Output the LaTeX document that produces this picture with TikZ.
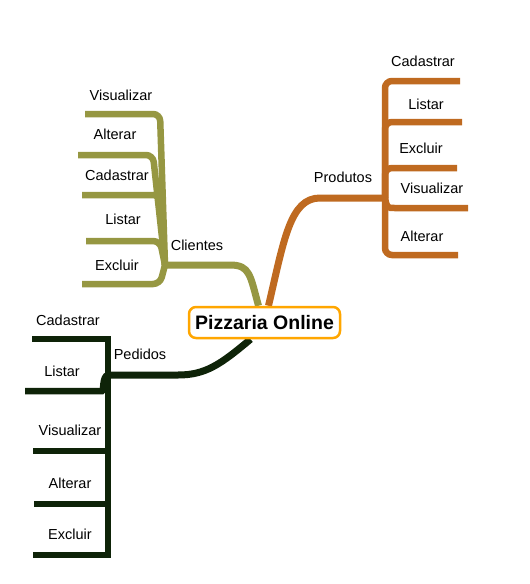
\documentclass[tikz,border=0pt]{standalone}
\usepackage{fontspec}
\setmainfont{Liberation Sans}
\usetikzlibrary{positioning, calc, backgrounds}
\definecolor{prodorange}{RGB}{191,106,32}
\definecolor{cliolive}{RGB}{150,151,66}
\definecolor{peddark}{RGB}{14,35,8}
\definecolor{rootorange}{RGB}{255,166,0}

\begin{document}
\begin{tikzpicture}[x=1pt, y=-1pt,
  every node/.style={font=\fontsize{14.5}{16}\selectfont, inner sep=1pt},
  branch/.style={line width=7pt},
  leaf/.style={line width=6.5pt, rounded corners=7pt}]
\useasboundingbox (0,0) rectangle (530,584);

\node[draw=rootorange, fill=white, line width=2.5pt, rounded corners=7pt, inner sep=0pt,
  minimum width=151pt, minimum height=31pt,
  font=\bfseries\fontsize{19.5}{22}\selectfont] (root) at (264.5,322.5) {Pizzaria Online};

\coordinate (prodJ) at (385,198);
\coordinate (cliJ) at (165,265);
\coordinate (pedJ) at (108,375);

\begin{scope}[on background layer]
% Produtos
\draw[branch, prodorange] ($(root.north)+(4,0)$) .. controls (284,240) and (290,198) .. (320,198) -- (prodJ);
\foreach \y/\xe in {81/460, 122/462, 168/457, 255/458}
  \draw[leaf, prodorange] (prodJ) -- (385,\y) -- (\xe,\y);
\draw[leaf, prodorange] (prodJ) .. controls (387,208) .. (402,208) -- (468,208);

% Clientes
\draw[branch, cliolive] ($(root.north)+(-6,0)$) .. controls (250,275) and (250,265) .. (230,265) -- (cliJ);
\foreach \s/\y/\xe in {160/114/85, 153/155/78, 160/195/82, 160/241/86, 160/284/82}
  \draw[leaf, cliolive] (cliJ) -- (\s,\y) -- (\xe,\y);

% Pedidos
\draw[branch, peddark] ($(root.south)+(-14,0)$) .. controls (220,365) and (205,375) .. (178,375) -- (pedJ);
\draw[leaf, peddark, rounded corners=0pt] (32,339) -- (108,339) -- (108,555) -- (33,555);
\foreach \y/\xe in {451/33, 504/34}
  \draw[leaf, peddark] (108,\y) -- (\xe,\y);
\draw[leaf, peddark] (pedJ) .. controls (102,376) and (104,391) .. (95,391) -- (25,391);
\end{scope}

% labels
\node (produtos) at (343,177) {Produtos};
\node (clientes) at (197,245) {Clientes};
\node (pedidos) at (140,354) {Pedidos};
\foreach \t/\x/\y/\n in {Cadastrar/423/61/pCad, Listar/426/104/pLis, Excluir/421/148/pExc,
    Visualizar/432/188/pVis, Alterar/422/236/pAlt,
    Visualizar/121/95/cVis, Alterar/115/134/cAlt, Cadastrar/117/175/cCad,
    Listar/123/219/cLis, Excluir/117/265/cExc,
    Cadastrar/68/320/dCad, Listar/62/371/dLis, Visualizar/70/430/dVis,
    Alterar/70/483/dAlt, Excluir/70/534/dExc}
  \node (\n) at (\x,\y) {\t};

\end{tikzpicture}
\end{document}
